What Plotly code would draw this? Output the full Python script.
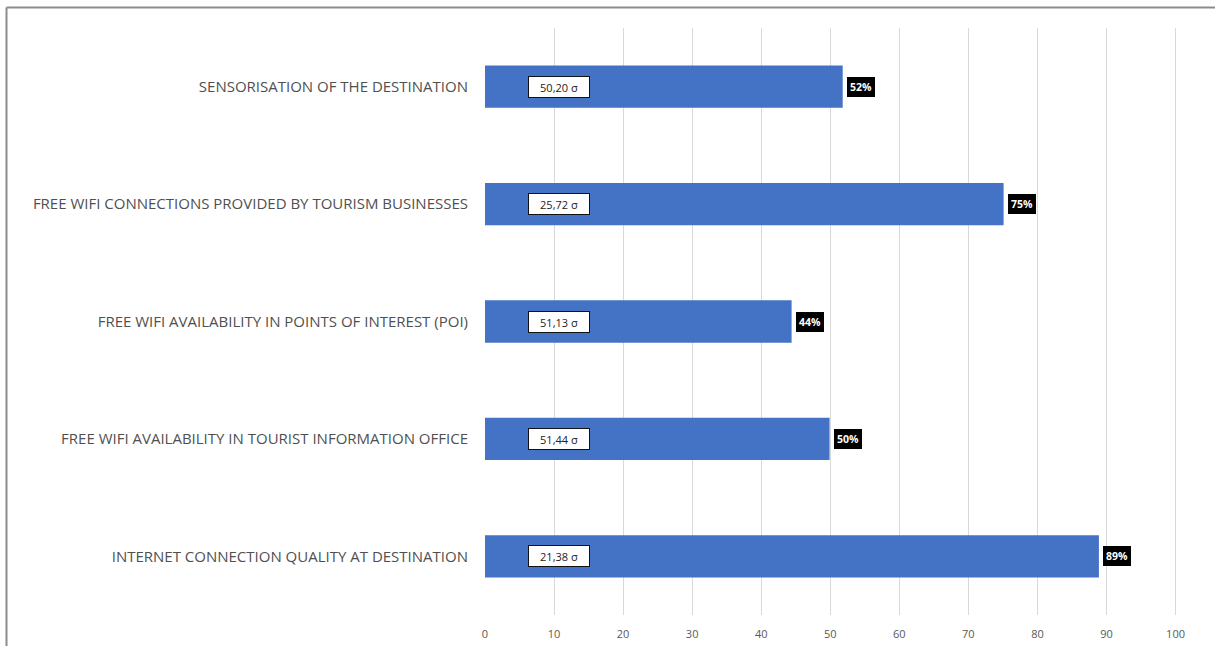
import plotly.graph_objects as go

categories = [
    "SENSORISATION OF THE DESTINATION",
    "FREE WIFI CONNECTIONS PROVIDED BY TOURISM BUSINESSES",
    "FREE WIFI AVAILABILITY IN POINTS OF INTEREST (POI)",
    "FREE WIFI AVAILABILITY IN TOURIST INFORMATION OFFICE",
    "INTERNET CONNECTION QUALITY AT DESTINATION",
]
values = [51.8, 75.1, 44.4, 49.9, 88.9]
pct_labels = ["52%", "75%", "44%", "50%", "89%"]
sigma_labels = ["50,20 σ", "25,72 σ", "51,13 σ", "51,44 σ", "21,38 σ"]
x_ticks = [0, 10, 20, 30, 40, 50, 60, 70, 80, 90, 100]

W, H = 1215, 646
ml, mr, mt, mb = 485, 36, 28, 31

fig = go.Figure()
fig.add_trace(go.Bar(
    y=categories, x=values, orientation="h",
    marker=dict(color="#4472C4", line=dict(width=0)),
    width=0.36, hoverinfo="skip",
))

annotations = []
for cat, v, p, s in zip(categories, values, pct_labels, sigma_labels):
    annotations.append(dict(
        x=10.7, y=cat, xref="x", yref="y", text=s, showarrow=False,
        font=dict(family="Open Sans", size=11, color="#222222"),
        bgcolor="white", bordercolor="#111111", borderwidth=1, borderpad=3,
        width=54, height=14, align="center",
        xanchor="center", yanchor="middle",
    ))
    annotations.append(dict(
        x=v, y=cat, xref="x", yref="y", text="<b>" + p + "</b>", showarrow=False,
        font=dict(family="Open Sans", size=10.5, color="white"),
        bgcolor="black", bordercolor="black", borderwidth=0, borderpad=3,
        xanchor="left", yanchor="middle", xshift=4,
    ))

pw = W - ml - mr
ph = H - mt - mb
bx = (6.5 - ml) / pw
by = (H - mb - 7.5) / ph

fig.update_layout(
    width=W, height=H,
    margin=dict(l=ml, r=mr, t=mt, b=mb),
    paper_bgcolor="white", plot_bgcolor="white",
    showlegend=False,
    annotations=annotations,
    xaxis=dict(
        range=[0, 100.5], tickvals=x_ticks, ticktext=[str(t) for t in x_ticks],
        showgrid=True, gridcolor="#D9D9D9", gridwidth=1, zeroline=False,
        showline=False, tickfont=dict(family="Open Sans", size=11, color="#595959"),
        ticks="", ticklabelstandoff=11, automargin=False,
    ),
    yaxis=dict(
        autorange="reversed", showgrid=False, showline=False, zeroline=False,
        tickfont=dict(family="Open Sans", size=15, color="#505050"),
        ticks="", ticklabelstandoff=16, automargin=False,
    ),
    shapes=[
        dict(type="line", xref="paper", yref="paper", x0=bx, x1=1.2, y0=by, y1=by,
             line=dict(color="#8C8C8C", width=2)),
        dict(type="line", xref="paper", yref="paper", x0=bx, x1=bx, y0=by, y1=-0.2,
             line=dict(color="#8C8C8C", width=2)),
    ],
)

fig.write_html("out.html", config={"displayModeBar": False},
               post_script="document.body.style.margin='0';")
